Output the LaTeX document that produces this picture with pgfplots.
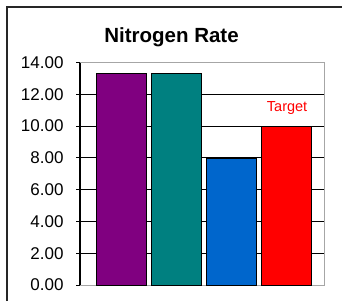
\documentclass[border=0pt]{standalone}
\usepackage{pgfplots}
\pgfplotsset{compat=1.18}
\usepackage{fontspec}
\setmainfont{Liberation Sans}
\definecolor{cpurple}{HTML}{800080}
\definecolor{cteal}{HTML}{008080}
\definecolor{cblue}{HTML}{0066CC}
\definecolor{cred}{HTML}{FF0000}
\begin{document}
\begin{tikzpicture}[x=1pt,y=1pt]
\useasboundingbox (0,0) rectangle (342,301);
\fill[white] (0,0) rectangle (342,301);
\draw[black!85, line width=2pt] (7,0) -- (7,294.5) -- (342,294.5);
\node[anchor=base, font=\fontsize{20.5}{22}\selectfont\bfseries] at (171.5,259) {Nitrogen Rate};
\begin{axis}[
  at={(80pt,16pt)}, anchor=south west,
  scale only axis, width=244pt, height=222.5pt,
  xmin=-0.768, xmax=3.695, ymin=0, ymax=14,
  ytick={0,2,...,14},
  xtick=\empty,
  ytick pos=left, tick align=outside, major tick length=4pt,
  tick style={black, line width=1pt},
  ymajorgrids, grid style={black, line width=1pt},
  axis line style={gray!70, line width=1pt},
  yticklabel style={font=\fontsize{17}{19}\selectfont, xshift=-9pt},
  /pgf/number format/.cd, fixed, fixed zerofill, precision=2, assume math mode=true,
  /pgfplots/.cd,
  ybar, bar width=50pt, bar shift=0pt,
  clip=false,
]
\addplot[fill=cpurple, draw=black, line width=1pt] coordinates {(0,13.33)};
\addplot[fill=cteal, draw=black, line width=1pt] coordinates {(1,13.33)};
\addplot[fill=cblue, draw=black, line width=1pt] coordinates {(2,7.93)};
\addplot[fill=cred, draw=black, line width=1pt] coordinates {(3,10.00)};
\draw[black, line width=1.2pt] (rel axis cs:0,0) -- (rel axis cs:0,1);
\node[text=cred, font=\fontsize{14.5}{16}\selectfont] at (axis cs:3.02,11.15) {Target};
\end{axis}
\end{tikzpicture}
\end{document}
